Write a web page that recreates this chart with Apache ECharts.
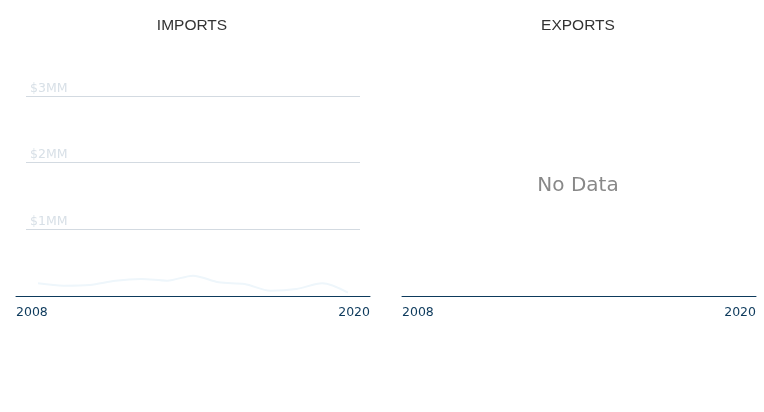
<!DOCTYPE html>
<html><head><meta charset="utf-8">
<script src="https://cdn.jsdelivr.net/npm/echarts@6/dist/echarts.min.js"></script>
<style>html,body{margin:0;padding:0;background:#fff}#c{width:764px;height:412px}</style>
</head><body><div id="c"></div>
<script>
const years = ['2008','2009','2010','2011','2012','2013','2014','2015','2016','2017','2018','2019','2020'];
const importsMM = [0.19,0.155,0.165,0.23,0.255,0.23,0.305,0.205,0.18,0.08,0.105,0.19,0.05];
const yTicks = [1,2,3];
const axisYears = [2008,2020];
const titles = ['IMPORTS','EXPORTS'];
const navy = '#0d3a5c';
const chart = echarts.init(document.getElementById('c'));
function axisPair(gi){
  return {
    x: {gridIndex: gi, type:'value', min: axisYears[0], max: axisYears[1], interval: axisYears[1]-axisYears[0],
        axisLine:{show:true, lineStyle:{color:navy, width:1}}, axisTick:{show:false}, splitLine:{show:false},
        axisLabel:{color:navy, fontSize:12.5, fontFamily:'DejaVu Sans', margin:10,
          alignMinLabel:'left', alignMaxLabel:'right', showMinLabel:true, showMaxLabel:true, formatter: v=>String(v)}},
    y: {gridIndex: gi, type:'value', min:0, max:3, show:false}
  };
}
const a0 = axisPair(0), a1 = axisPair(3);
const titleStyle = {fontSize:15.5, fill:'#333', fontFamily:'Liberation Sans', textAlign:'center', textVerticalAlign:'middle'};
chart.setOption({
  animation:false,
  graphic:[
    {type:'text', x:192, y:26, style:Object.assign({text:titles[0]}, titleStyle)},
    {type:'text', x:578, y:26, style:Object.assign({text:titles[1]}, titleStyle)},
    {type:'text', x:578, y:186, style:{text:'No Data', fontSize:20, fill:'#888', fontFamily:'DejaVu Sans', textAlign:'center', textVerticalAlign:'middle'}}
  ],
  grid:[
    {left:16, width:354, top:96, bottom:116},
    {left:26, width:334, top:96, bottom:116},
    {left:38, width:310, top:96, bottom:116},
    {left:402, width:354, top:96, bottom:116}
  ],
  xAxis:[
    a0.x,
    {gridIndex:1, type:'value', min:0, max:1, show:false},
    {gridIndex:2, type:'category', data:years, boundaryGap:false, show:false},
    a1.x
  ],
  yAxis:[
    a0.y,
    {gridIndex:1, type:'value', min:0, max:yTicks[yTicks.length-1], interval:1, position:'left',
      axisLine:{show:false}, axisTick:{show:false},
      splitLine:{show:true, lineStyle:{color:'#d3dae1', width:1}},
      axisLabel:{inside:true, margin:4, color:'#d8e0e7', fontSize:12.5, fontFamily:'DejaVu Sans', verticalAlign:'bottom', padding:[0,0,1,0],
        formatter: v => yTicks.indexOf(v) >= 0 ? '$' + v + 'MM' : ''}},
    {gridIndex:2, type:'value', min:0, max:3, show:false},
    a1.y
  ],
  series:[
    {type:'line', xAxisIndex:2, yAxisIndex:2, data:importsMM, smooth:0.3, symbol:'none',
      lineStyle:{color:'#eef6fb', width:2}}
  ]
});
</script></body></html>
